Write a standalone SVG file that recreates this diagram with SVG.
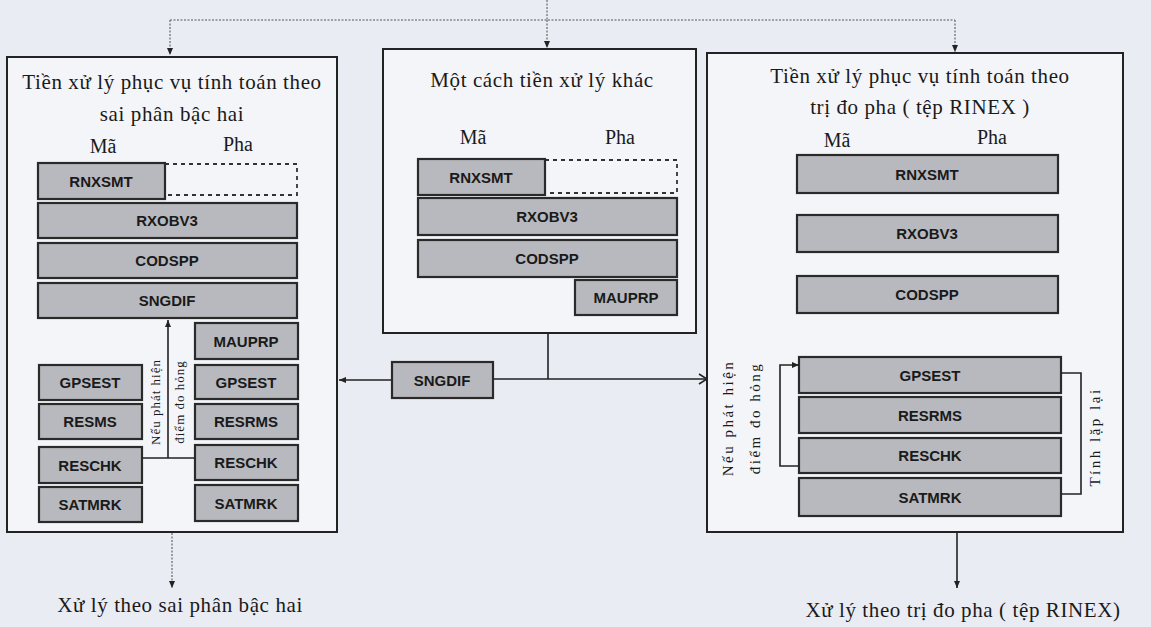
<svg xmlns="http://www.w3.org/2000/svg" width="1151" height="627" viewBox="0 0 1151 627">
<style>
.bg{fill:#eaecf3}
.frame{fill:#f4f5f9;stroke:#222;stroke-width:2}
.mod{fill:#b8b9be;stroke:#2a2a2a;stroke-width:2.2}
.dash{fill:none;stroke:#333;stroke-width:1.8;stroke-dasharray:4 4}
.mt{font-family:"Liberation Sans",Arial,sans-serif;font-weight:bold;font-size:15px;fill:#1a1a1a;text-anchor:middle}
.tt{font-family:"Liberation Serif","Times New Roman",serif;font-size:21px;letter-spacing:0.6px;fill:#1a1a1a;text-anchor:middle}
.hd{font-family:"Liberation Serif","Times New Roman",serif;font-size:20px;fill:#1a1a1a;text-anchor:middle}
.vt{font-family:"Liberation Serif","Times New Roman",serif;font-size:13px;letter-spacing:1px;fill:#1a1a1a;text-anchor:middle}
.vt2{font-family:"Liberation Serif","Times New Roman",serif;font-size:15px;letter-spacing:2.5px;fill:#1a1a1a;text-anchor:middle}
.ln{fill:none;stroke:#222;stroke-width:1.6}
.dl{fill:none;stroke:#888;stroke-width:1.6;stroke-dasharray:2 1.5}
</style>
<defs>
<marker id="ah" markerWidth="8" markerHeight="8" refX="7" refY="4" orient="auto" markerUnits="userSpaceOnUse">
<path d="M0,1 L7,4 L0,7 Z" fill="#222"/>
</marker>
<marker id="oh" markerWidth="10" markerHeight="12" refX="9" refY="6" orient="auto" markerUnits="userSpaceOnUse">
<path d="M1,1 L9,6 L1,11" fill="none" stroke="#222" stroke-width="1.6"/>
</marker>
</defs>
<rect class="bg" x="0" y="0" width="1151" height="627"/>

<g id="connectors">
<path class="dl" d="M547,0 L547,20"/>
<path class="dl" d="M170,20 L955,20"/>
<path class="dl" d="M170,20 L170,55" marker-end="url(#ah)"/>
<path class="dl" d="M547,20 L547,48" marker-end="url(#ah)"/>
<path class="dl" d="M955,20 L955,52" marker-end="url(#ah)"/>
<path class="ln" d="M392,380 L339,380" marker-end="url(#ah)"/>
<path class="ln" d="M493,379 L707,379" marker-end="url(#oh)"/>
<path class="ln" d="M548,333 L548,379"/>
<path class="dl" d="M172,533 L172,588" marker-end="url(#ah)"/>
<path class="ln" d="M957,533 L957,588" marker-end="url(#ah)"/>
</g>

<g id="left-box">
<rect class="frame" x="7" y="57" width="330" height="475"/>
<text class="tt" x="172" y="89">Tiền xử lý phục vụ tính toán theo</text>
<text class="tt" x="172" y="121">sai phân bậc hai</text>
<text class="hd" x="103" y="153">Mã</text>
<text class="hd" x="238" y="151">Pha</text>
<rect class="dash" x="165" y="164" width="132" height="31"/>
<rect class="mod" x="38" y="163" width="127" height="36"/>
<text class="mt" x="101" y="187">RNXSMT</text>
<rect class="mod" x="38" y="203" width="259" height="35"/>
<text class="mt" x="167" y="226">RXOBV3</text>
<rect class="mod" x="38" y="243" width="259" height="35"/>
<text class="mt" x="167" y="266">CODSPP</text>
<rect class="mod" x="38" y="283" width="259" height="35"/>
<text class="mt" x="167" y="306">SNGDIF</text>
<rect class="mod" x="195" y="323" width="103" height="36"/>
<text class="mt" x="246" y="347">MAUPRP</text>
<rect class="mod" x="195" y="365" width="103" height="34"/>
<text class="mt" x="246" y="388">GPSEST</text>
<rect class="mod" x="195" y="404" width="103" height="35"/>
<text class="mt" x="246" y="427">RESRMS</text>
<rect class="mod" x="195" y="445" width="103" height="35"/>
<text class="mt" x="246" y="468">RESCHK</text>
<rect class="mod" x="195" y="485" width="103" height="36"/>
<text class="mt" x="246" y="509">SATMRK</text>
<rect class="mod" x="39" y="365" width="103" height="35"/>
<text class="mt" x="90" y="388">GPSEST</text>
<rect class="mod" x="39" y="404" width="103" height="35"/>
<text class="mt" x="90" y="427">RESMS</text>
<rect class="mod" x="39" y="447" width="103" height="36"/>
<text class="mt" x="90" y="471">RESCHK</text>
<rect class="mod" x="39" y="487" width="103" height="35"/>
<text class="mt" x="90" y="510">SATMRK</text>
<path class="ln" d="M168,458 L168,320" marker-end="url(#ah)"/>
<path class="ln" d="M142,458 L195,458"/>
<text class="vt" transform="translate(160,402) rotate(-90)">Nếu phát hiện</text>
<text class="vt" transform="translate(184,402) rotate(-90)">điểm đo hỏng</text>
</g>

<g id="middle-box">
<rect class="frame" x="383" y="49" width="313" height="284"/>
<text class="tt" x="542" y="87">Một cách tiền xử lý khác</text>
<text class="hd" x="473" y="144">Mã</text>
<text class="hd" x="620" y="144">Pha</text>
<rect class="dash" x="545" y="160" width="132" height="33"/>
<rect class="mod" x="418" y="159" width="127" height="36"/>
<text class="mt" x="481" y="183">RNXSMT</text>
<rect class="mod" x="418" y="198" width="259" height="37"/>
<text class="mt" x="547" y="222">RXOBV3</text>
<rect class="mod" x="418" y="240" width="259" height="37"/>
<text class="mt" x="547" y="264">CODSPP</text>
<rect class="mod" x="575" y="280" width="102" height="35"/>
<text class="mt" x="626" y="303">MAUPRP</text>
</g>

<g id="sngdif">
<rect class="mod" x="392" y="362" width="101" height="36"/>
<text class="mt" x="442" y="386">SNGDIF</text>
</g>

<g id="right-box">
<rect class="frame" x="707" y="53" width="416" height="479"/>
<text class="tt" x="920" y="83">Tiền xử lý phục vụ tính toán theo</text>
<text class="tt" x="920" y="114">trị đo pha ( tệp RINEX )</text>
<text class="hd" x="837" y="147">Mã</text>
<text class="hd" x="992" y="144">Pha</text>
<rect class="mod" x="797" y="155" width="261" height="38"/>
<text class="mt" x="927" y="180">RNXSMT</text>
<rect class="mod" x="797" y="215" width="261" height="37"/>
<text class="mt" x="927" y="239">RXOBV3</text>
<rect class="mod" x="797" y="276" width="261" height="37"/>
<text class="mt" x="927" y="300">CODSPP</text>
<rect class="mod" x="799" y="357" width="262" height="36"/>
<text class="mt" x="930" y="381">GPSEST</text>
<rect class="mod" x="799" y="397" width="262" height="36"/>
<text class="mt" x="930" y="421">RESRMS</text>
<rect class="mod" x="799" y="438" width="262" height="35"/>
<text class="mt" x="930" y="461">RESCHK</text>
<rect class="mod" x="799" y="478" width="262" height="38"/>
<text class="mt" x="930" y="503">SATMRK</text>
<path class="ln" d="M799,466 L780,466 L780,365 L799,365" marker-end="url(#ah)"/>
<path class="ln" d="M1061,373 L1081,373 L1081,494 L1061,494"/>
<text class="vt2" transform="translate(733,418) rotate(-90)">Nếu phát hiện</text>
<text class="vt2" transform="translate(760,418) rotate(-90)">điểm đo hỏng</text>
<text class="vt2" transform="translate(1100,437) rotate(-90)">Tính lặp lại</text>
</g>

<g id="outputs">
<text class="tt" x="180" y="612">Xử lý theo sai phân bậc hai</text>
<text class="tt" x="963" y="617">Xử lý theo trị đo pha ( tệp RINEX)</text>
</g>
</svg>
